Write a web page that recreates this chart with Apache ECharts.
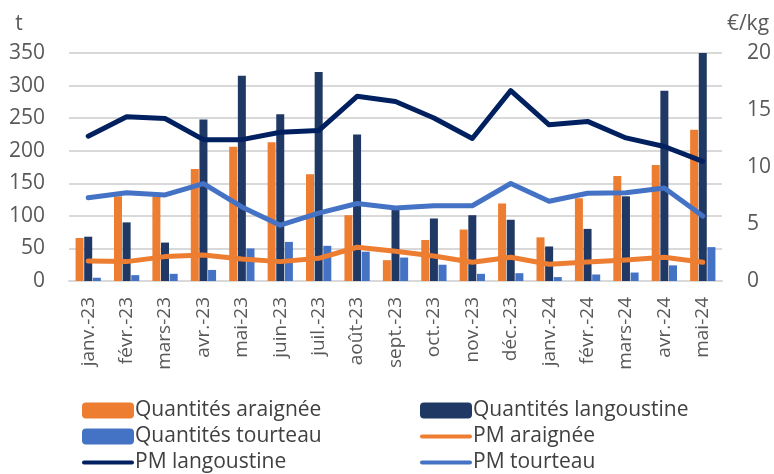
<!DOCTYPE html>
<html>
<head>
<meta charset="utf-8">
<script src="https://cdn.jsdelivr.net/npm/echarts@6/dist/echarts.min.js"></script>
<style>
  html, body { margin: 0; padding: 0; background: #fff; }
  #chart { width: 774px; height: 474px; }
</style>
</head>
<body>
<div id="chart"></div>
<script>
var months = ['janv.-23', 'févr.-23', 'mars-23', 'avr.-23', 'mai-23', 'juin-23', 'juil.-23', 'août-23',
    'sept.-23', 'oct.-23', 'nov.-23', 'déc.-23', 'janv.-24', 'févr.-24', 'mars-24', 'avr.-24', 'mai-24'];

// quantités (t)
var qAraignee    = [66, 130, 130, 172, 206, 213, 164, 101, 32, 63, 79, 119, 67, 127, 161, 178, 232];
var qLangoustine = [68, 90, 59, 248, 315, 256, 321, 225, 109, 96, 101, 94, 53, 80, 130, 292, 350];
var qTourteau    = [5, 9, 11, 17, 50, 60, 54, 45, 36, 25, 11, 12, 6, 10, 13, 24, 52];

// prix moyens (€/kg)
var pmAraignee    = [1.76, 1.7, 2.14, 2.28, 1.93, 1.7, 1.99, 2.96, 2.6, 2.2, 1.64, 2.08, 1.47, 1.67, 1.85, 2.08, 1.64];
var pmLangoustine = [12.7, 14.4, 14.25, 12.4, 12.4, 13.05, 13.2, 16.2, 15.75, 14.3, 12.5, 16.7, 13.7, 14.0, 12.55, 11.8, 10.5];
var pmTourteau    = [7.3, 7.75, 7.55, 8.55, 6.5, 4.9, 5.95, 6.8, 6.4, 6.6, 6.6, 8.55, 7.0, 7.7, 7.75, 8.15, 5.7];

var txt = '#595959';
var font = 'Open Sans';
var lineIcon = 'path://M2,0 L50,0 A2,2 0 0 1 50,4 L2,4 A2,2 0 0 1 2,0 Z';

var legendText = { fontSize: 21, color: '#404040', padding: [0, 0, 0, -4] };

var myChart = echarts.init(document.getElementById('chart'));

myChart.setOption({
    animation: false,
    textStyle: { fontFamily: font },
    grid: { left: 69, right: 52, top: 53, bottom: 193 },
    legend: [{
        orient: 'vertical',
        left: 77,
        top: 395,
        height: 100,
        itemWidth: 52,
        itemHeight: 16,
        itemGap: 5,
        textStyle: legendText,
        data: ['Quantités araignée', 'Quantités tourteau', { name: 'PM langoustine', icon: lineIcon }]
    }, {
        orient: 'vertical',
        left: 415,
        top: 395,
        height: 100,
        itemWidth: 52,
        itemHeight: 16,
        itemGap: 5,
        textStyle: legendText,
        data: ['Quantités langoustine', { name: 'PM araignée', icon: lineIcon }, { name: 'PM tourteau', icon: lineIcon }]
    }],
    xAxis: {
        type: 'category',
        data: months,
        axisTick: { show: false },
        axisLine: { lineStyle: { color: '#d9d9d9', width: 2 } },
        axisLabel: { rotate: 90, fontSize: 19, color: txt, margin: 16, interval: 0 }
    },
    yAxis: [{
        type: 'value',
        name: 't',
        nameGap: 18,
        nameTextStyle: { fontSize: 21, color: txt, padding: [0, 0, 0, -100] },
        min: 0, max: 350, interval: 50,
        splitLine: { lineStyle: { color: '#d9d9d9', width: 2 } },
        axisLabel: { fontSize: 21, color: txt, margin: 24 }
    }, {
        type: 'value',
        name: '€/kg',
        nameGap: 18,
        nameTextStyle: { fontSize: 21, color: txt, padding: [0, 0, 0, 52] },
        min: 0, max: 20, interval: 5,
        splitLine: { show: false },
        axisLabel: { fontSize: 21, color: txt, margin: 25 }
    }],
    series: [{
        name: 'Quantités araignée',
        type: 'bar',
        barWidth: 8,
        barGap: '8%',
        itemStyle: { color: '#ED7D31' },
        data: qAraignee
    }, {
        name: 'Quantités langoustine',
        type: 'bar',
        barWidth: 8,
        barGap: '8%',
        itemStyle: { color: '#203864' },
        data: qLangoustine
    }, {
        name: 'Quantités tourteau',
        type: 'bar',
        barWidth: 8,
        barGap: '8%',
        itemStyle: { color: '#4472C4' },
        data: qTourteau
    }, {
        name: 'PM araignée',
        type: 'line',
        yAxisIndex: 1,
        symbol: 'none',
        lineStyle: { color: '#ED7D31', width: 5, cap: 'round', join: 'round' },
        itemStyle: { color: '#ED7D31' },
        data: pmAraignee
    }, {
        name: 'PM langoustine',
        type: 'line',
        yAxisIndex: 1,
        symbol: 'none',
        lineStyle: { color: '#002060', width: 5, cap: 'round', join: 'round' },
        itemStyle: { color: '#002060' },
        data: pmLangoustine
    }, {
        name: 'PM tourteau',
        type: 'line',
        yAxisIndex: 1,
        symbol: 'none',
        lineStyle: { color: '#4472C4', width: 5, cap: 'round', join: 'round' },
        itemStyle: { color: '#4472C4' },
        data: pmTourteau
    }]
});
</script>
</body>
</html>
